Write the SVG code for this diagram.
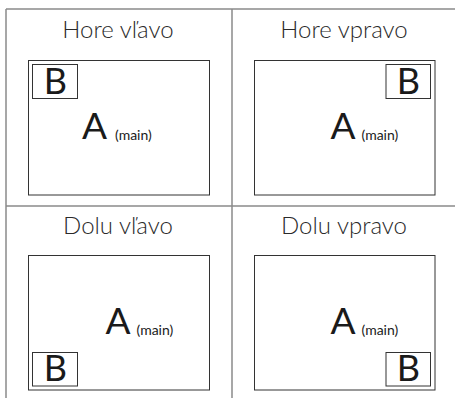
<svg xmlns="http://www.w3.org/2000/svg" width="455" height="398" viewBox="0 0 455 398">
<style>
.frame{stroke:#8a8a8a;stroke-width:1.5;fill:none}
.scr{stroke:#333;stroke-width:1;fill:#fff}
.pip{stroke:#333;stroke-width:1;fill:#fff}
.title{font-family:Lato,"Open Sans",sans-serif;font-weight:300;font-size:24px;fill:#2a2a2a;text-anchor:middle}
.big{font-family:Lato,"Open Sans",sans-serif;font-size:36px;fill:#1a1a1a}
.bigA{font-family:Lato,"Open Sans",sans-serif;font-size:37px;fill:#1a1a1a}
.small{font-family:Lato,"Open Sans",sans-serif;font-size:14px;fill:#1a1a1a}
</style>
<rect width="455" height="398" fill="#fff"/>
<g id="connectors">
<line class="frame" x1="6" y1="9" x2="455" y2="9"/>
<line class="frame" x1="6" y1="9" x2="6" y2="398"/>
<line class="frame" x1="232" y1="9" x2="232" y2="398"/>
<line class="frame" x1="6" y1="206" x2="455" y2="206"/>
</g>
<g id="tl">
<text class="title" x="118" y="38">Hore vľavo</text>
<rect class="scr" x="28.5" y="60.5" width="181" height="134.5"/>
<rect class="pip" x="32.5" y="64.5" width="45" height="34"/>
<text class="big" x="55.5" y="93.5" text-anchor="middle">B</text>
<text class="bigA" x="82" y="138.5">A</text>
<text class="small" x="115" y="140">(main)</text>
</g>
<g id="tr">
<text class="title" x="344" y="38">Hore vpravo</text>
<rect class="scr" x="254.5" y="60.5" width="180.5" height="134.5"/>
<rect class="pip" x="386" y="64.5" width="44.5" height="34"/>
<text class="big" x="408.5" y="93.5" text-anchor="middle">B</text>
<text class="bigA" x="330.5" y="138.5">A</text>
<text class="small" x="361.5" y="140">(main)</text>
</g>
<g id="bl">
<text class="title" x="118" y="234">Dolu vľavo</text>
<rect class="scr" x="28.5" y="255.5" width="181" height="134.5"/>
<rect class="pip" x="32.5" y="352.5" width="45" height="33.5"/>
<text class="big" x="55.5" y="381" text-anchor="middle">B</text>
<text class="bigA" x="105.5" y="333.5">A</text>
<text class="small" x="136.5" y="335">(main)</text>
</g>
<g id="br">
<text class="title" x="344" y="234">Dolu vpravo</text>
<rect class="scr" x="254.5" y="255.5" width="180.5" height="134.5"/>
<rect class="pip" x="386" y="352.5" width="44.5" height="33.5"/>
<text class="big" x="408.5" y="381" text-anchor="middle">B</text>
<text class="bigA" x="330.5" y="333.5">A</text>
<text class="small" x="361.5" y="335">(main)</text>
</g>
</svg>
